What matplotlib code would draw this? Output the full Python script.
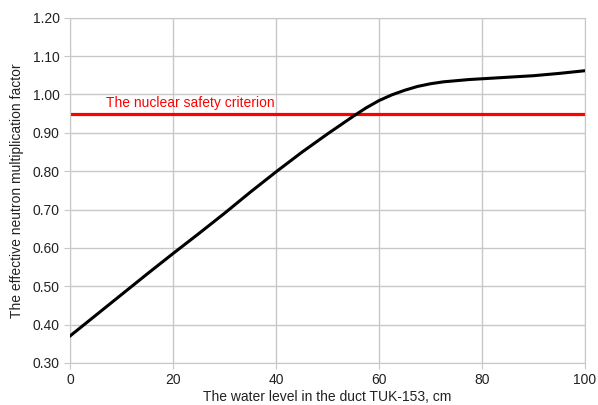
import matplotlib.pyplot as plt

plt.rcParams['font.family'] = ['Liberation Sans', 'DejaVu Sans']

water_level = [0, 5, 10, 15, 20, 25, 30, 35, 40, 45, 50, 55, 57.5, 60, 62.5, 65, 67.5,
               70, 72.5, 75, 77.5, 80, 85, 90, 95, 100]
k_eff = [0.370, 0.424, 0.478, 0.532, 0.585, 0.637, 0.690, 0.745, 0.798, 0.849, 0.897, 0.943,
         0.965, 0.984, 0.999, 1.011, 1.021, 1.028, 1.033, 1.036, 1.039, 1.041, 1.045,
         1.049, 1.055, 1.062]
criterion = 0.95
criterion_label = "The nuclear safety criterion"

fig = plt.figure(figsize=(5.98, 4.05), dpi=100)
ax = fig.add_axes([0.117, 0.104, 0.861, 0.852])

ax.plot(water_level, k_eff, color='black', linewidth=2.2, solid_joinstyle='round', zorder=3)
ax.plot([0, 100], [criterion, criterion], color='#ff0000', linewidth=2.3, zorder=2)
ax.text(7, criterion + 0.01, criterion_label, color='#ff0000', fontsize=10, va='bottom', ha='left')

ax.set_xlim(0, 100)
ax.set_ylim(0.30, 1.20)
ax.set_xticks(range(0, 101, 20))
ax.set_yticks([0.3 + 0.1 * i for i in range(10)])
ax.set_yticklabels([f"{0.3 + 0.1 * i:.2f}" for i in range(10)])

ax.grid(True, color='#c8c8c8', linewidth=1)
ax.set_axisbelow(True)
for s in ax.spines.values():
    s.set_color('#c8c8c8')
ax.tick_params(colors='#c8c8c8', labelcolor='#222222', labelsize=10, length=4)

ax.set_xlabel("The water level in the duct TUK-153, cm", fontsize=10, color='#222222', labelpad=2)
ax.set_ylabel("The effective neutron multiplication factor", fontsize=10, color='#222222', labelpad=6)

fig.savefig("out.png", dpi=100)
